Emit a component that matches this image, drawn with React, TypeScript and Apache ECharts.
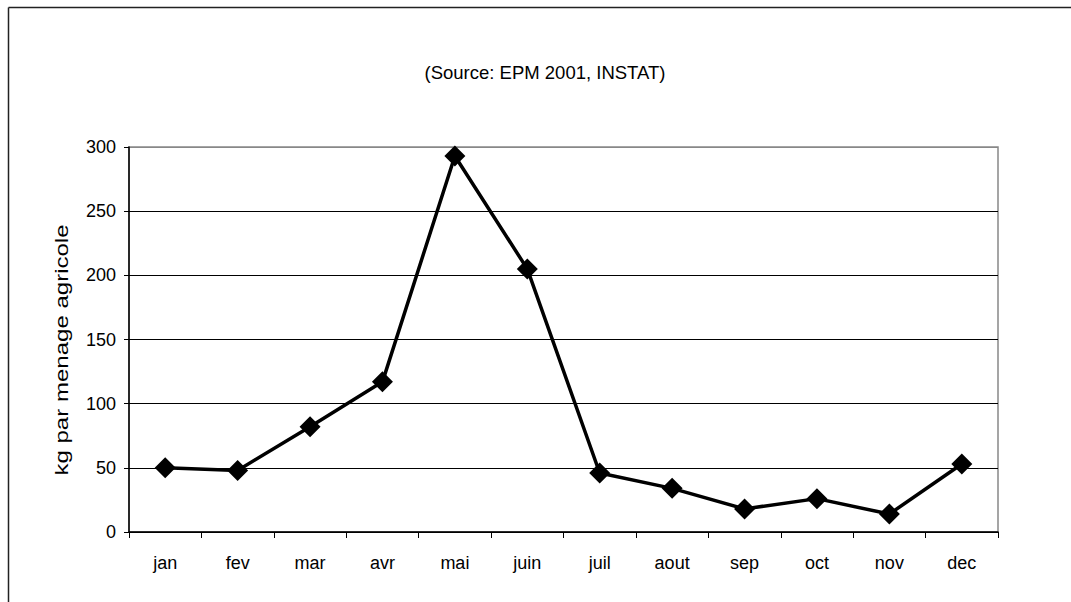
import React, { useEffect, useRef } from "react";
import * as echarts from "echarts";

const months = ["jan", "fev", "mar", "avr", "mai", "juin", "juil", "aout", "sep", "oct", "nov", "dec"];
const values = [50, 48, 82, 117, 293, 205, 46, 34, 18, 26, 14, 53];
const yTicks = { min: 0, max: 300, interval: 50 };
const titleText = "(Source: EPM 2001, INSTAT)";
const yAxisTitle = "kg par menage agricole";

const FONT = "'Liberation Sans', Arial, sans-serif";

export default function App() {
  const ref = useRef<HTMLDivElement>(null);
  useEffect(() => {
    if (!ref.current) return;
    const chart = echarts.init(ref.current, undefined, { renderer: "svg" });
    chart.setOption({
      animation: false,
      backgroundColor: "#ffffff",
      textStyle: { fontFamily: FONT, color: "#000" },
      graphic: [
        { type: "line", shape: { x1: 8.5, y1: 7.5, x2: 1071, y2: 7.5 }, style: { stroke: "#222", lineWidth: 1.5 } },
        { type: "line", shape: { x1: 8.5, y1: 7.5, x2: 8.5, y2: 602 }, style: { stroke: "#222", lineWidth: 1.5 } },
        {
          type: "text",
          x: 545,
          y: 72,
          style: { text: titleText, font: `18.5px ${FONT}`, fill: "#000", align: "center", verticalAlign: "middle" },
        },
        {
          type: "text",
          x: 62,
          y: 350,
          rotation: Math.PI / 2,
          scaleX: 1.3,
          style: { text: yAxisTitle, font: `18.5px ${FONT}`, fill: "#000", align: "center", verticalAlign: "middle" },
        },
      ],
      grid: {
        left: 129,
        right: 73,
        top: 147,
        bottom: 70,
        show: true,
        borderColor: "#888",
        borderWidth: 1.5,
        backgroundColor: "transparent",
      },
      xAxis: {
        type: "category",
        data: months,
        boundaryGap: true,
        axisLine: { show: true, lineStyle: { color: "#000", width: 1.5 } },
        axisTick: { show: true, inside: false, length: 6, alignWithLabel: false, lineStyle: { color: "#000", width: 1 } },
        axisLabel: { color: "#000", fontSize: 18, fontFamily: FONT, margin: 22 },
        splitLine: { show: false },
      },
      yAxis: {
        type: "value",
        min: yTicks.min,
        max: yTicks.max,
        interval: yTicks.interval,
        axisLine: { show: true, lineStyle: { color: "#000", width: 1.5 } },
        axisTick: { show: true, length: 5, lineStyle: { color: "#000", width: 1 } },
        axisLabel: { color: "#000", fontSize: 18, fontFamily: FONT, margin: 13 },
        splitLine: {
          show: true,
          lineStyle: { color: ["#000", "#000", "#000", "#000", "#000", "#000", "#888"], width: 1 },
        },
      },
      series: [
        {
          type: "line",
          data: values,
          symbol: "diamond",
          symbolSize: 21,
          showSymbol: true,
          itemStyle: { color: "#000" },
          lineStyle: { color: "#000", width: 3.5 },
        },
      ],
    });
    return () => chart.dispose();
  }, []);
  return <div ref={ref} style={{ position: "fixed", left: 0, top: 0, width: 1071, height: 602 }} />;
}
